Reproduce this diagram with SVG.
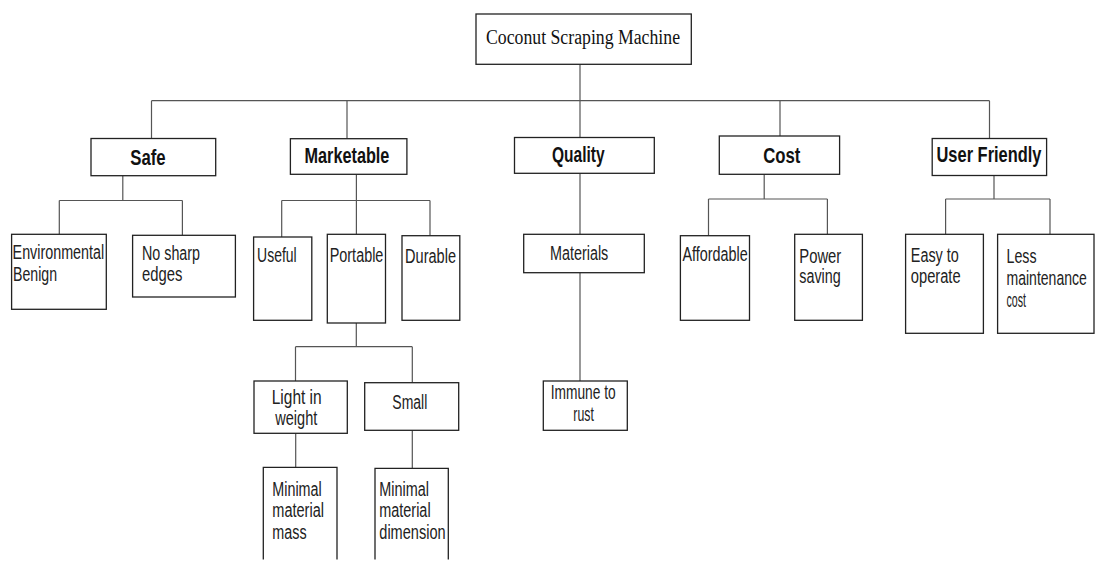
<svg xmlns="http://www.w3.org/2000/svg" width="1095" height="562" viewBox="0 0 1095 562">
<style>
.box{fill:#fff;stroke:#222;stroke-width:1.3}
.open{fill:none;stroke:#222;stroke-width:1.3}
.conn{fill:none;stroke:#555;stroke-width:1.2}
.t{font-family:"Liberation Sans",Arial,sans-serif;font-size:19.5px;fill:#222}
.b{font-family:"Liberation Sans",Arial,sans-serif;font-size:21.5px;font-weight:bold;fill:#111}
.s{font-family:"Liberation Serif","Times New Roman",serif;font-size:20px;fill:#111}
</style>
<rect width="1095" height="562" fill="#fff"/>
<g id="connectors">
<path class="conn" d="M580,64.3V137.5M151.5,100.7H989.5M151.5,100.7V138.5M347,100.7V138.7M780,100.7V136M989.5,100.7V138.5"/>
<path class="conn" d="M122.8,175.7V200.5M59.3,200.5H182.4M59.3,200.5V234.3M182.4,200.5V235.3"/>
<path class="conn" d="M356.4,174.3V234.3M281.7,200.5H430M281.7,200.5V237M430,200.5V235.7"/>
<path class="conn" d="M580,173.3V234.3M580,272.7V381"/>
<path class="conn" d="M356.3,323V346.7M295.5,346.7H412.3M295.5,346.7V381M412.3,346.7V382.7"/>
<path class="conn" d="M295.7,433.3V467.3M412.3,430.3V468.3"/>
<path class="conn" d="M764.2,174.3V199M708.5,199H827.4M708.5,199V235.7M827.4,199V234.3"/>
<path class="conn" d="M994,175.7V199M945.6,199H1050M945.6,199V234.3M1050,199V234.3"/>
</g>
<g id="root"><rect class="box" x="476" y="14" width="215.3" height="50.3"/><text class="s" x="486" y="44.3" textLength="194" lengthAdjust="spacingAndGlyphs">Coconut Scraping Machine</text></g>
<g id="safe"><rect class="box" x="91" y="138.5" width="124.7" height="37.2"/><text class="b" x="130.3" y="164.7" textLength="35.4" lengthAdjust="spacingAndGlyphs">Safe</text></g>
<g id="marketable"><rect class="box" x="290.4" y="138.7" width="116.5" height="35.6"/><text class="b" x="304.5" y="162.7" textLength="84.9" lengthAdjust="spacingAndGlyphs">Marketable</text></g>
<g id="quality"><rect class="box" x="514.5" y="137.5" width="139.8" height="35.8"/><text class="b" x="552" y="161.5" textLength="52.6" lengthAdjust="spacingAndGlyphs">Quality</text></g>
<g id="cost"><rect class="box" x="719.3" y="136" width="120.3" height="38.3"/><text class="b" x="763.2" y="163.3" textLength="37.2" lengthAdjust="spacingAndGlyphs">Cost</text></g>
<g id="userfriendly"><rect class="box" x="932.2" y="138.5" width="114.4" height="37"/><text class="b" x="936.5" y="161.7" textLength="105" lengthAdjust="spacingAndGlyphs">User Friendly</text></g>
<g id="environmental"><rect class="box" x="11.6" y="234.3" width="94.7" height="75"/><text class="t" x="12.6" y="259" textLength="91.6" lengthAdjust="spacingAndGlyphs">Environmental</text><text class="t" x="13" y="280.5" textLength="44" lengthAdjust="spacingAndGlyphs">Benign</text></g>
<g id="nosharp"><rect class="box" x="132.6" y="235.3" width="102.8" height="61.7"/><text class="t" x="142" y="260" textLength="58" lengthAdjust="spacingAndGlyphs">No sharp</text><text class="t" x="142" y="281" textLength="40.4" lengthAdjust="spacingAndGlyphs">edges</text></g>
<g id="useful"><rect class="box" x="253.6" y="237" width="58.2" height="83.3"/><text class="t" x="257.1" y="262.3" textLength="39.6" lengthAdjust="spacingAndGlyphs">Useful</text></g>
<g id="portable"><rect class="box" x="327.3" y="234.3" width="58.2" height="88.7"/><text class="t" x="329.7" y="262.3" textLength="53.7" lengthAdjust="spacingAndGlyphs">Portable</text></g>
<g id="durable"><rect class="box" x="402" y="235.7" width="57.8" height="84.6"/><text class="t" x="405.1" y="263.3" textLength="50.9" lengthAdjust="spacingAndGlyphs">Durable</text></g>
<g id="materials"><rect class="box" x="523.7" y="234.3" width="120.6" height="38.4"/><text class="t" x="550" y="260" textLength="58.3" lengthAdjust="spacingAndGlyphs" fill="#333">Materials</text></g>
<g id="immune"><rect class="box" x="543.3" y="381" width="84" height="49.3"/><text class="t" x="550.7" y="399.3" textLength="65" lengthAdjust="spacingAndGlyphs">Immune to</text><text class="t" x="573.3" y="420.7" textLength="20.5" lengthAdjust="spacingAndGlyphs">rust</text></g>
<g id="affordable"><rect class="box" x="680.4" y="235.7" width="69.1" height="84.6"/><text class="t" x="682.5" y="260.7" textLength="65.2" lengthAdjust="spacingAndGlyphs">Affordable</text></g>
<g id="powersaving"><rect class="box" x="794.7" y="234.3" width="67.7" height="86"/><text class="t" x="799.3" y="262.7" textLength="42" lengthAdjust="spacingAndGlyphs">Power</text><text class="t" x="799.3" y="283.3" textLength="41.4" lengthAdjust="spacingAndGlyphs">saving</text></g>
<g id="easy"><rect class="box" x="905.6" y="234.3" width="77.8" height="99"/><text class="t" x="910.8" y="261.7" textLength="48" lengthAdjust="spacingAndGlyphs">Easy to</text><text class="t" x="910.8" y="283.3" textLength="49.8" lengthAdjust="spacingAndGlyphs">operate</text></g>
<g id="lessmaintenance"><rect class="box" x="997.6" y="234.3" width="96.4" height="99"/><text class="t" x="1006.5" y="263.3" textLength="30" lengthAdjust="spacingAndGlyphs">Less</text><text class="t" transform="translate(1006.5,285) scale(0.72,1)" x="0" y="0">maintenance</text><text class="t" x="1006.5" y="306.7" textLength="19.5" lengthAdjust="spacingAndGlyphs">cost</text></g>
<g id="light"><rect class="box" x="254" y="381" width="93.3" height="52.3"/><text class="t" x="271.7" y="404" textLength="50" lengthAdjust="spacingAndGlyphs">Light in</text><text class="t" x="275.3" y="425" textLength="42" lengthAdjust="spacingAndGlyphs">weight</text></g>
<g id="small"><rect class="box" x="364.7" y="382.7" width="94" height="47.6"/><text class="t" x="392.3" y="409" textLength="35" lengthAdjust="spacingAndGlyphs">Small</text></g>
<g id="minmass"><path class="open" d="M263.3,559.5V467.3H337V559.5"/><text class="t" x="272.3" y="495.7" textLength="49.4" lengthAdjust="spacingAndGlyphs">Minimal</text><text class="t" x="272.3" y="516.5" textLength="51.7" lengthAdjust="spacingAndGlyphs">material</text><text class="t" x="272.3" y="538.7" textLength="34.3" lengthAdjust="spacingAndGlyphs">mass</text></g>
<g id="mindim"><path class="open" d="M375,559.5V468.3H448.3V559.5"/><text class="t" x="379.3" y="495.7" textLength="49.7" lengthAdjust="spacingAndGlyphs">Minimal</text><text class="t" x="379.3" y="516.5" textLength="51.3" lengthAdjust="spacingAndGlyphs">material</text><text class="t" x="379.3" y="539.3" textLength="66.3" lengthAdjust="spacingAndGlyphs">dimension</text></g>
</svg>
